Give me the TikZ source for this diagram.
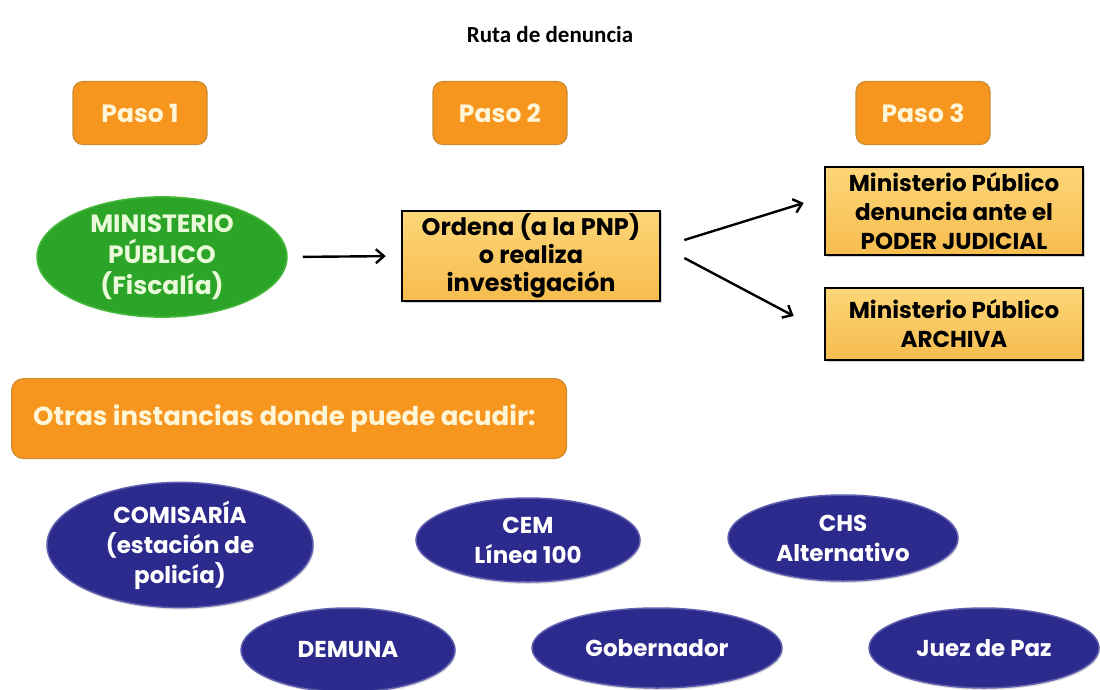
\documentclass[tikz,border=0pt]{standalone}
\usepackage{fontspec}
\setmainfont{Poppins}
\newfontfamily\titlefont{Carlito}
\usetikzlibrary{shapes.geometric,arrows.meta,shadows}
\definecolor{pasoor}{RGB}{247,150,30}
\definecolor{pasobd}{RGB}{205,140,50}
\definecolor{cream}{RGB}{255,246,215}
\definecolor{ylwtop}{RGB}{253,214,120}
\definecolor{ylwbot}{RGB}{246,188,78}
\definecolor{mgreen}{RGB}{44,164,40}
\definecolor{mgreenbd}{RGB}{70,185,60}
\definecolor{lgreen}{RGB}{232,250,215}
\definecolor{mblue}{RGB}{44,42,140}
\definecolor{mbluebd}{RGB}{95,95,175}
\tikzset{
  pasobox/.style={rectangle, rounded corners=10pt, fill=pasoor, draw=pasobd, line width=1.2pt,
    minimum width=134pt, minimum height=63pt, text=cream,
    font=\fontsize{25}{30}\selectfont\bfseries},
  yellowbox/.style={rectangle, top color=ylwtop, bottom color=ylwbot, draw=black, line width=2.6pt,
    drop shadow={opacity=0.35, shadow xshift=1.5pt, shadow yshift=-1.5pt},
    minimum width=258pt, align=center, text=black, inner sep=0pt,
    font=\fontsize{23}{29}\selectfont\bfseries},
  greenell/.style={ellipse, fill=mgreen, draw=mgreenbd, line width=1.5pt, inner sep=0pt,
    minimum width=250pt, minimum height=116pt, align=center, text=lgreen,
    font=\fontsize{25}{31}\selectfont\bfseries},
  blueell/.style={ellipse, fill=mblue, draw=mbluebd, line width=1.5pt, inner sep=0pt,
    drop shadow={opacity=0.25, shadow xshift=1pt, shadow yshift=-2pt},
    align=center, text=white, font=\fontsize{23}{30}\selectfont\bfseries},
  arr/.style={line width=2.4pt, -{Straight Barb[length=8pt,width=14pt,line width=2.4pt]}}
}
\begin{document}
\begin{tikzpicture}[x=1pt,y=-1pt]
\useasboundingbox[fill=white] (0,0) rectangle (1100,690);
% title
\node[font=\titlefont\fontsize{23}{27}\selectfont\bfseries] (title) at (550,35) {Ruta de denuncia};
% paso headers
\node[pasobox] (p1) at (140,113) {Paso 1};
\node[pasobox] (p2) at (500,113) {Paso 2};
\node[pasobox] (p3) at (923,113) {Paso 3};
% main flow
\node[greenell] (mp) at (162,257) {MINISTERIO\\PÚBLICO\\(Fiscalía)};
\node[yellowbox, minimum height=90pt, font=\fontsize{24}{28}\selectfont\bfseries] (ord) at (531,256) {Ordena (a la PNP)\\o realiza\\investigación};
\node[yellowbox, minimum height=88pt] (mpj) at (954,211) {Ministerio Público\\denuncia ante el\\PODER JUDICIAL};
\node[yellowbox, minimum height=72pt] (mpa) at (954,324) {Ministerio Público\\ARCHIVA};
\draw[arr, shorten <=15pt, shorten >=15pt] (mp.east) -- (ord.west);
\draw[arr] ([xshift=23pt,yshift=16pt]ord.east) -- ([xshift=-20pt,yshift=8pt]mpj.west);
\draw[arr] ([xshift=23pt,yshift=-2pt]ord.east) -- ([xshift=-30pt,yshift=8pt]mpa.west);
% other instances
\node[rectangle, rounded corners=12pt, fill=pasoor, draw=pasobd, line width=1.2pt,
  minimum width=555pt, minimum height=80pt, anchor=north west] (otras) at (11,378) {};
\node[anchor=west, text=cream, font=\fontsize{26}{30}\selectfont\bfseries, inner sep=0pt] (otrastxt) at (33,419) {Otras instancias donde puede acudir:};
\node[blueell, minimum width=266pt, minimum height=104pt] (com) at (180,545) {COMISARÍA\\(estación de\\policía)};
\node[blueell, minimum width=224pt, minimum height=84pt] (cem) at (528,540) {CEM\\Línea 100};
\node[blueell, minimum width=230pt, minimum height=86pt] (chs) at (843,538) {CHS\\Alternativo};
\node[blueell, minimum width=214pt, minimum height=84pt] (dem) at (348,650) {DEMUNA};
\node[blueell, minimum width=250pt, minimum height=80pt] (gob) at (657,648) {Gobernador};
\node[blueell, minimum width=230pt, minimum height=80pt] (juez) at (984,648) {Juez de Paz};
\end{tikzpicture}
\end{document}
